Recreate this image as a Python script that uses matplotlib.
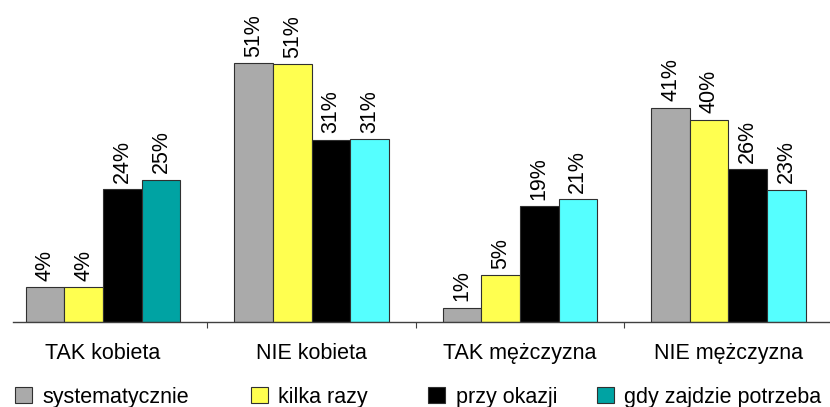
import matplotlib
matplotlib.use('Agg')
import matplotlib.pyplot as plt
import numpy as np

plt.rcParams['font.family'] = ['Liberation Sans', 'DejaVu Sans']

categories = ['TAK kobieta', 'NIE kobieta', 'TAK mężczyzna', 'NIE mężczyzna']
series = ['systematycznie', 'kilka razy', 'przy okazji', 'gdy zajdzie potrzeba']

# bar heights as drawn (the source chart's bars are not quite to scale with the labels)
bar_heights = [
    [6.8, 51.0, 2.8, 42.2],     # systematycznie
    [6.8, 50.8, 9.2, 39.9],     # kilka razy
    [26.1, 35.9, 22.8, 30.1],   # przy okazji
    [28.0, 36.0, 24.2, 26.0],   # gdy zajdzie potrzeba
]
pct_labels = [
    ['4%', '51%', '1%', '41%'],
    ['4%', '51%', '5%', '40%'],
    ['24%', '31%', '19%', '26%'],
    ['25%', '31%', '21%', '23%'],
]

colors = ['#AAAAAA', '#FFFF50', '#000000', '#55FFFF']
teal = '#00A3A3'

fig = plt.figure(figsize=(8.3, 4.07), dpi=100)
ax = fig.add_axes([13 / 830, 1 - 321.7 / 407, 1 - 13 / 830, 321.7 / 407])

x = np.arange(len(categories))
width = 0.185
offsets = [-1.5 * width, -0.5 * width, 0.5 * width, 1.5 * width]

for i in range(len(series)):
    bar_cols = [colors[i]] * len(categories)
    if i == 3:
        bar_cols[0] = teal
    bars = ax.bar(x + offsets[i], bar_heights[i], width, color=bar_cols,
                  edgecolor='#303030', linewidth=0.8)
    for j, b in enumerate(bars):
        ax.text(b.get_x() + b.get_width() / 2, b.get_height() + 1.3, pct_labels[i][j],
                rotation=90, ha='center', va='bottom', fontsize=15.5)

ax.set_xlim(-0.432, 3.487)
ax.set_ylim(0, 63.5)

for s in ['left', 'top', 'right']:
    ax.spines[s].set_visible(False)
ax.spines['bottom'].set_color('#404040')
ax.spines['bottom'].set_linewidth(1)
ax.set_yticks([])

ax.set_xticks([0.5, 1.5, 2.5])
ax.set_xticklabels([])
ax.tick_params(axis='x', which='major', length=4, color='#404040', direction='out')
ax.set_xticks(x, minor=True)
ax.set_xticklabels(categories, minor=True, fontsize=15.5)
ax.tick_params(axis='x', which='minor', length=0, pad=15)

# legend, one entry each, placed like the original
leg_x = [15, 250.7, 428.3, 596.7]
leg_colors = [colors[0], colors[1], colors[2], teal]
for i in range(len(series)):
    h = plt.Rectangle((0, 0), 1, 1, facecolor=leg_colors[i], edgecolor='#303030', linewidth=0.8)
    fig.legend([h], [series[i]], loc='center left',
               bbox_to_anchor=(leg_x[i] / 830, 1 - 397 / 407),
               frameon=False, fontsize=15.5, borderpad=0, borderaxespad=0,
               handlelength=0.79, handleheight=0.79, handletextpad=0.5)

fig.savefig('out.png', dpi=100)
